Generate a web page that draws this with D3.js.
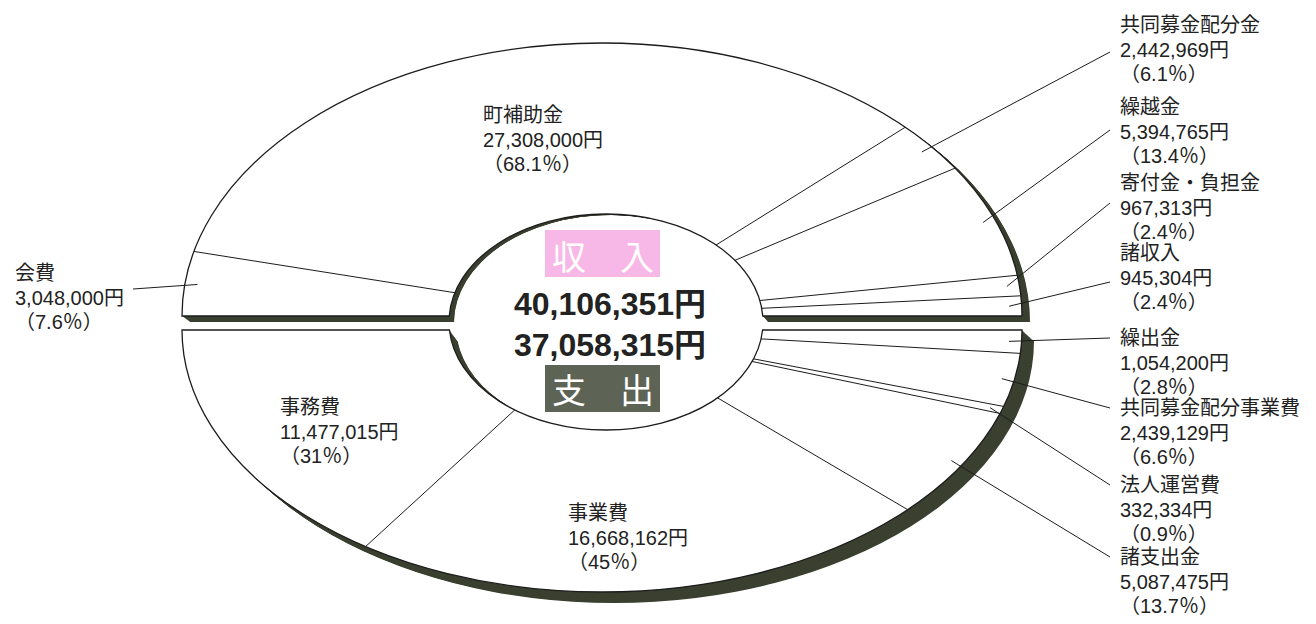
<!DOCTYPE html>
<html>
<head>
<meta charset="utf-8">
<script src="https://cdn.jsdelivr.net/npm/d3@7"></script>
<style>
body { margin: 0; background: #fff; }
svg { display: block; }
</style>
</head>
<body>
<svg id="chart" width="1316" height="624"></svg>
<script>
// 収入 (top half, left -> right)
var incomeNames = ["会費", "町補助金", "共同募金配分金", "繰越金", "寄付金・負担金", "諸収入"];
var incomeValues = [3048000, 27308000, 2442969, 5394765, 967313, 945304];
var incomePct = ["7.6", "68.1", "6.1", "13.4", "2.4", "2.4"];

// 支出 (bottom half, right -> left)
var expenseNames = ["繰出金", "共同募金配分事業費", "法人運営費", "諸支出金", "事業費", "事務費"];
var expenseValues = [1054200, 2439129, 332334, 5087475, 16668162, 11477015];
var expensePct = ["2.8", "6.6", "0.9", "13.7", "45", "31"];

// label layout: [text x, first line centre y, leader end x, leader end y]
var incomeLabelPos = [[15, 273, 133, 289], [483, 115], [1120, 25, 1110, 52], [1120, 107, 1110, 130], [1120, 183, 1110, 203], [1120, 253, 1110, 282]];
var expenseLabelPos = [[1120, 338, 1110, 338], [1120, 408, 1110, 408], [1120, 485, 1110, 485], [1120, 557, 1110, 557], [568, 513], [280, 407]];

var svg = d3.select("#chart");
var font = '"Liberation Sans", "Noto Sans CJK JP", sans-serif';
var shadowCol = "#3b4030";
var lineCol = "#1c1c1c";
var yen = d3.format(",");

var cx = 602, rx = 420;
var inner = {cx: 606, cy: 322, rx: 157, ry: 108};

var halves = [
	{key: "in", cy: 316, ry: 273, names: incomeNames, values: incomeValues, pct: incomePct,
	 start: -Math.PI / 2, end: Math.PI / 2, off: [8, 6], holeOff: [5, 1], top: true, pos: incomeLabelPos},
	{key: "out", cy: 330, ry: 262, names: expenseNames, values: expenseValues, pct: expensePct,
	 start: Math.PI / 2, end: Math.PI * 1.5, off: [12, 11], holeOff: [7, 4], top: false, pos: expenseLabelPos}
];

// half ring; outer part moved by (ox,oy), hole moved by (hx,hy)
var halfPath = function(h, ox, oy, hx, hy) {
	ox = ox || 0; oy = oy || 0; hx = hx || 0; hy = hy || 0;
	var y = h.cy + oy;
	var dy = y - (inner.cy + hy);
	var ix = inner.rx * Math.sqrt(1 - (dy / inner.ry) * (dy / inner.ry));
	var s1 = h.top ? 1 : 0, s2 = h.top ? 0 : 1;
	return "M" + (cx - rx + ox) + "," + y +
		" A" + rx + "," + h.ry + " 0 0 " + s1 + " " + (cx + rx + ox) + "," + y +
		" L" + (inner.cx + hx + ix) + "," + y +
		" A" + inner.rx + "," + inner.ry + " 0 0 " + s2 + " " + (inner.cx + hx - ix) + "," + y + " Z";
}

var pt = function(h, a, f) {
	return [cx + f * rx * Math.sin(a), h.cy - f * h.ry * Math.cos(a)];
}

halves.forEach(function(h) {
	var d = halfPath(h);
	var arcs = d3.pie().sort(null).startAngle(h.start).endAngle(h.end)(h.values);
	var g = svg.append("g").attr("class", "half-" + h.key);

	// extruded shadow
	var steps = 14;
	for (var k = steps; k >= 1; k--) {
		var f = k / steps;
		g.append("path")
			.attr("d", halfPath(h, h.off[0] * f, h.off[1] * f, h.holeOff[0] * f, h.holeOff[1] * f))
			.attr("fill", shadowCol);
	}

	g.append("path").attr("d", d).attr("fill", "#fff");

	svg.append("clipPath").attr("id", "clip-" + h.key)
		.append("path").attr("d", d);

	// slice separators
	g.append("g")
		.attr("clip-path", "url(#clip-" + h.key + ")")
		.selectAll("line")
		.data(arcs.slice(1))
		.enter()
		.append("line")
			.attr("x1", cx)
			.attr("y1", h.cy)
			.attr("x2", a => pt(h, a.startAngle, 1.01)[0])
			.attr("y2", a => pt(h, a.startAngle, 1.01)[1])
			.attr("stroke", lineCol)
			.attr("stroke-width", 1);

	g.append("path").attr("d", d)
		.attr("fill", "none")
		.attr("stroke", lineCol)
		.attr("stroke-width", 1.3);

	// leader lines
	arcs.forEach(function(a, i) {
		var p = h.pos[i];
		if (p.length < 4) return;
		var m = (a.startAngle + a.endAngle) / 2;
		var s = pt(h, m, 0.97);
		g.append("line")
			.attr("x1", s[0]).attr("y1", s[1])
			.attr("x2", p[2]).attr("y2", p[3])
			.attr("stroke", lineCol)
			.attr("stroke-width", 1);
	});

	// labels
	arcs.forEach(function(a, i) {
		var p = h.pos[i];
		var lines = [h.names[i], yen(h.values[i]) + "円", "（" + h.pct[i] + "％）"];
		var t = g.append("text")
			.attr("font-family", font)
			.attr("font-size", "20px")
			.attr("fill", "#222");
		lines.forEach(function(l, j) {
			t.append("tspan")
				.attr("x", p[0])
				.attr("y", p[1] + 7 + j * 24.5)
				.text(l);
		});
	});
});

// centre
var centre = svg.append("g");
centre.append("rect")
	.attr("x", 545).attr("y", 230).attr("width", 115).attr("height", 47)
	.attr("fill", "#f7b8e8");
centre.append("text")
	.attr("x", 603).attr("y", 270)
	.attr("text-anchor", "middle")
	.attr("font-family", font).attr("font-size", "34px")
	.attr("fill", "#fff")
	.text("収　入");

centre.append("rect")
	.attr("x", 545).attr("y", 365).attr("width", 115).attr("height", 47)
	.attr("fill", "#5d6455");
centre.append("text")
	.attr("x", 603).attr("y", 403)
	.attr("text-anchor", "middle")
	.attr("font-family", font).attr("font-size", "34px")
	.attr("fill", "#fff")
	.text("支　出");

centre.append("text")
	.attr("x", 610).attr("y", 315)
	.attr("text-anchor", "middle")
	.attr("font-family", font).attr("font-size", "32px").attr("font-weight", "bold")
	.attr("fill", "#222")
	.text(yen(d3.sum(incomeValues)) + "円");

centre.append("text")
	.attr("x", 610).attr("y", 356)
	.attr("text-anchor", "middle")
	.attr("font-family", font).attr("font-size", "32px").attr("font-weight", "bold")
	.attr("fill", "#222")
	.text(yen(d3.sum(expenseValues)) + "円");
</script>
</body>
</html>
